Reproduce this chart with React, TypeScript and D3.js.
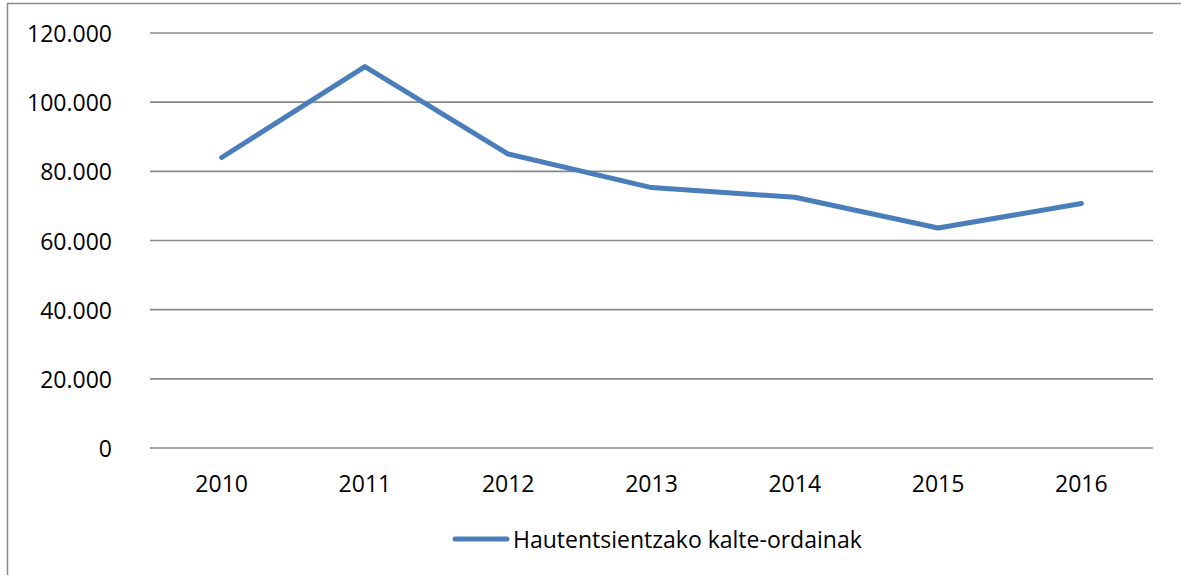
import React from "react";
import * as d3 from "d3";

const categories = ["2010", "2011", "2012", "2013", "2014", "2015", "2016"];
const seriesName = "Hautentsientzako kalte-ordainak";
const values = [84000, 110300, 85000, 75300, 72500, 63600, 70700];
const yTicks = [0, 20000, 40000, 60000, 80000, 100000, 120000];

const W = 1181;
const H = 575;
const FONT = "'Open Sans', 'Noto Sans', sans-serif";
const FS = 23;

export default function App() {
  const x = d3.scaleBand().domain(categories).range([150, 1153]);
  const y = d3.scaleLinear().domain([0, 120000]).range([448, 33]);
  const fmt = (v: number) => d3.format(",")(v).replace(/,/g, ".");
  const line = d3
    .line<number>()
    .x((_, i) => (x(categories[i]) as number) + x.bandwidth() / 2)
    .y((d) => y(d));

  return (
    <svg
      width={W}
      height={H}
      style={{ position: "absolute", left: 0, top: 0, background: "#fff" }}
    >
      <rect x={0} y={0} width={W} height={H} fill="#fff" />
      <line x1={7.5} y1={3} x2={7.5} y2={H} stroke="#8a8a8a" strokeWidth={1.5} />
      <line x1={7} y1={3.5} x2={W} y2={3.5} stroke="#8a8a8a" strokeWidth={1.5} />
      {yTicks.map((t) => (
        <g key={t}>
          <line
            x1={150}
            x2={1153}
            y1={y(t)}
            y2={y(t)}
            stroke="#888"
            strokeWidth={1.6}
          />
          <text
            x={112}
            y={y(t)}
            textAnchor="end"
            dominantBaseline="central"
            fontFamily={FONT}
            fontSize={FS}
            fill="#000"
          >
            {fmt(t)}
          </text>
        </g>
      ))}
      {categories.map((c) => (
        <text
          key={c}
          x={(x(c) as number) + x.bandwidth() / 2}
          y={483}
          textAnchor="middle"
          dominantBaseline="central"
          fontFamily={FONT}
          fontSize={FS}
          fill="#000"
        >
          {c}
        </text>
      ))}
      <path
        d={line(values) || ""}
        fill="none"
        stroke="#4a7ebb"
        strokeWidth={5}
        strokeLinecap="round"
        strokeLinejoin="round"
      />
      <line
        x1={455}
        x2={507}
        y1={539}
        y2={539}
        stroke="#4a7ebb"
        strokeWidth={5}
        strokeLinecap="round"
      />
      <text
        x={513}
        y={539}
        dominantBaseline="central"
        fontFamily={FONT}
        fontSize={FS}
        fill="#000"
      >
        {seriesName}
      </text>
    </svg>
  );
}
